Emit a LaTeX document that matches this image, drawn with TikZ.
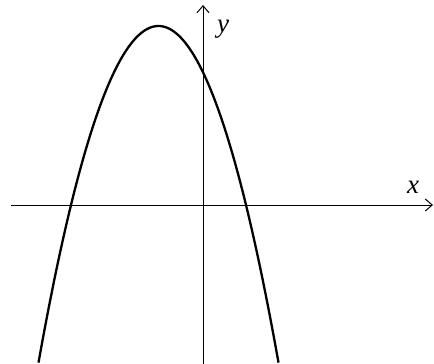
\documentclass[tikz,border=0pt]{standalone}
\usepackage{fontspec}
\setmainfont{Liberation Serif}
\usetikzlibrary{arrows.meta}
\begin{document}
\begin{tikzpicture}[x=1pt,y=-1pt,
  axis/.style={line width=1pt,-{Straight Barb[length=7pt,width=12pt,line width=1pt]}},
  curve/.style={line width=2.3pt},
  lbl/.style={font=\fontsize{27}{29}\selectfont\itshape,inner sep=0pt}]
\useasboundingbox (0,0) rectangle (434,364);
\coordinate (xl) at (11,205);
\coordinate (xr) at (433,205);
\coordinate (yb) at (203,364);
\coordinate (yt) at (203,5);
\draw[axis] (xl) -- (xr);
\draw[axis] (yb) -- (yt);
\draw[curve] plot[domain=-120:120,samples=120,smooth] ({158.5+\x},{26+0.02338*\x*\x});
\node[lbl] (xlab) at (413,187) {x};
\node[lbl] (ylab) at (223,29) {y};
\end{tikzpicture}
\end{document}
